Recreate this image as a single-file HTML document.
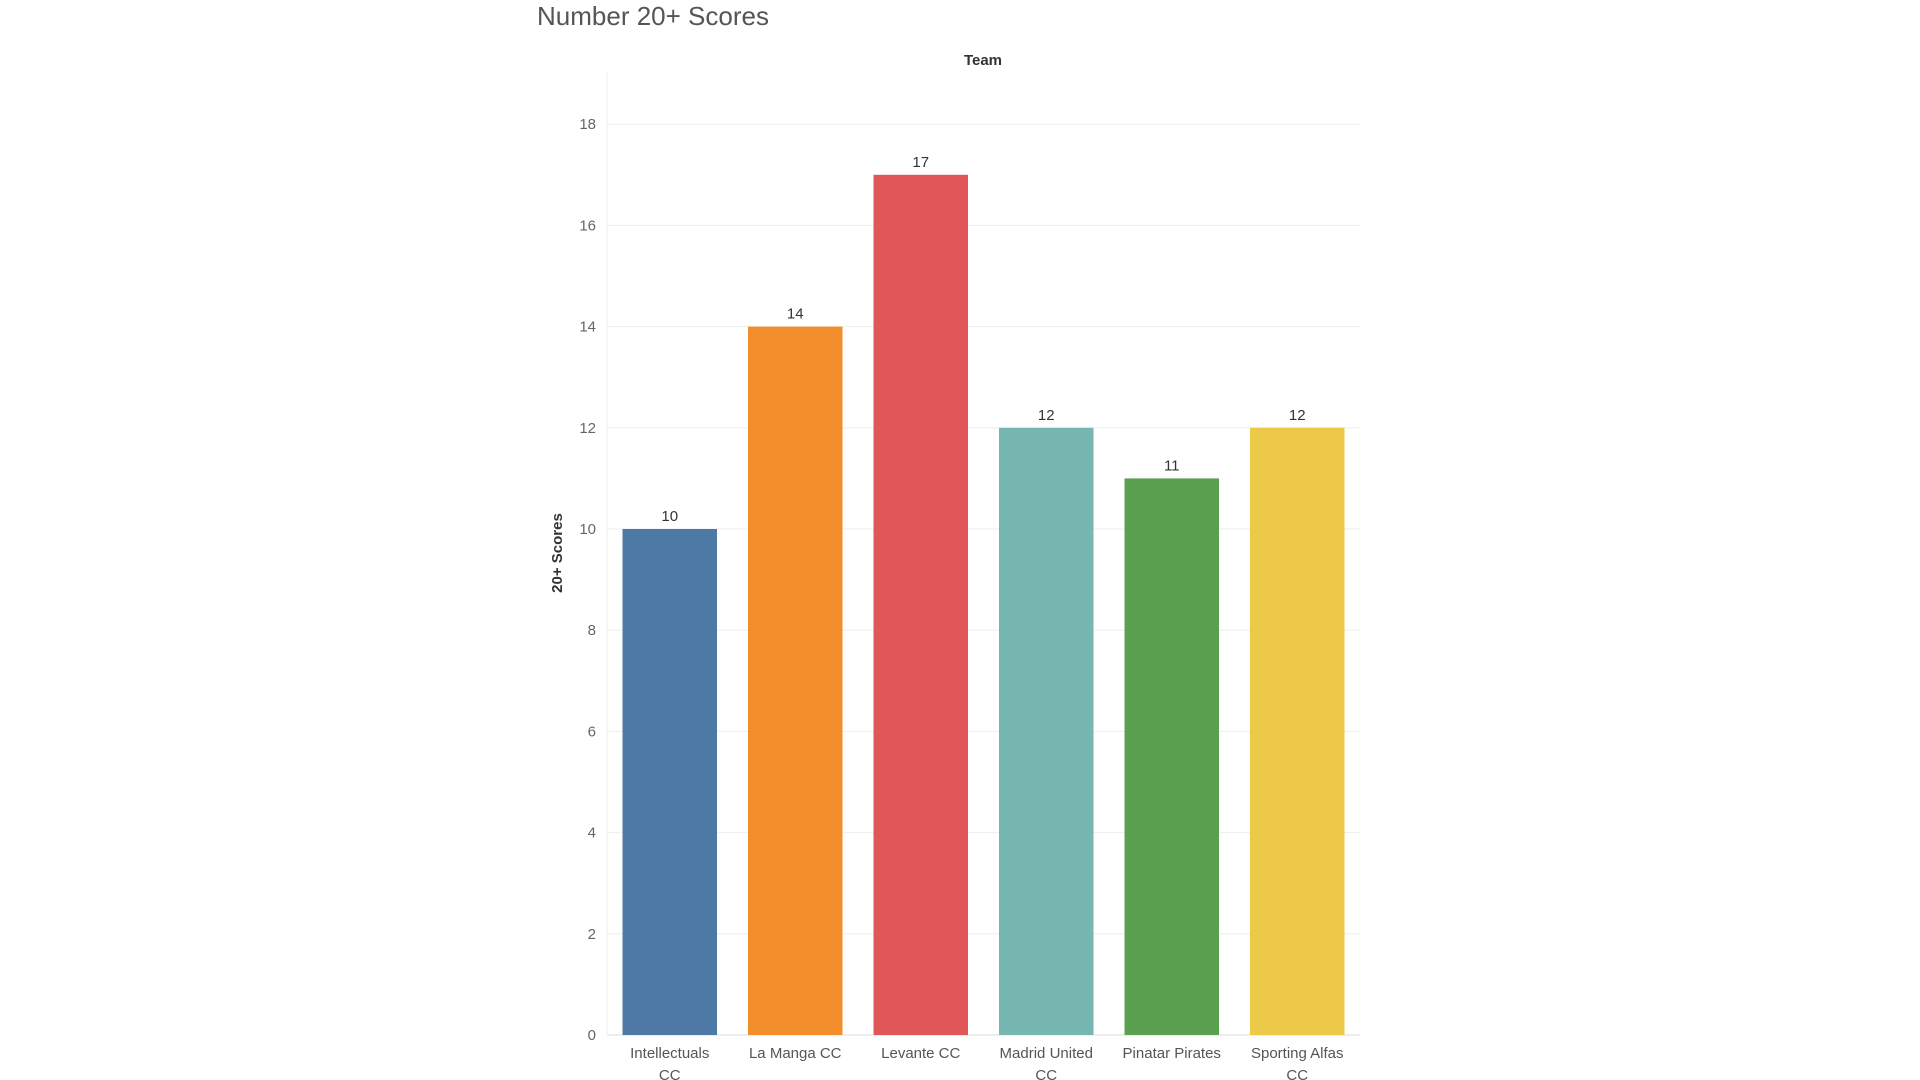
<!DOCTYPE html>
<html><head><meta charset="utf-8"><style>
html,body{margin:0;padding:0;background:#fff;width:1920px;height:1080px;overflow:hidden;font-family:"Liberation Sans",sans-serif;}
</style></head><body>
<svg width="1920" height="1080" id="chart" xmlns="http://www.w3.org/2000/svg">
<text x="537" y="25" font-size="26" fill="#555">Number 20+ Scores</text>
<text x="983" y="65" font-size="15" font-weight="bold" fill="#333" text-anchor="middle">Team</text>
<text transform="translate(562,553) rotate(-90)" font-size="15" font-weight="bold" fill="#333" text-anchor="middle">20+ Scores</text>
<g id="grid"></g><g id="bars"></g>
</svg>
<script>
const categories=["Intellectuals CC","La Manga CC","Levante CC","Madrid United CC","Pinatar Pirates","Sporting Alfas CC"];
const values=[10,14,17,12,11,12];
const colors=["#4e79a7","#f28e2b","#e15759","#76b7b2","#59a14f","#edc948"];
const ticks=[0,2,4,6,8,10,12,14,16,18];
const NS="http://www.w3.org/2000/svg";
const X0=607,X1=1360,Y0=1035,PPU=50.6;
const band=(X1-X0)/categories.length;
const y=v=>Y0-v*PPU;
const xb=i=>X0+i*band;
const svg=document.getElementById('chart');
const grid=document.getElementById('grid'),bars=document.getElementById('bars');
function mk(tag,a,parent){const e=document.createElementNS(NS,tag);for(const k in a)e.setAttribute(k,a[k]);parent.appendChild(e);return e;}
ticks.forEach(t=>{
  const l=mk('line',{x1:X0,x2:X1,y1:y(t),y2:y(t),stroke:t===0?'#ddd':'#eee','stroke-width':1},grid);
  
  
  const tx=mk('text',{x:596,y:y(t)+5,'font-size':15,fill:'#666','text-anchor':'end'},grid);
  tx.textContent=t;
  
  
});
const ax=mk('line',{x1:X0,x2:X0,y1:72,y2:Y0,stroke:'#eee','stroke-width':1},grid);


categories.forEach((c,i)=>{
  const v=values[i];
  const r=mk('rect',{x:xb(i)+15.5,y:y(v),width:band-31,height:Y0-y(v),fill:colors[i]},bars);
  
  
  const cx=xb(i)+band/2;
  const vl=mk('text',{x:cx,y:y(v)-8,'font-size':15,fill:'#333','text-anchor':'middle'},bars);
  vl.textContent=v;
  
  
  const words=c.split(' ');
  let lines=[c];
  if(c.length>15){lines=[words.slice(0,-1).join(' '),words[words.length-1]];}
  lines.forEach((ln,j)=>{
    const t=mk('text',{x:cx,y:1058+j*22,'font-size':15,fill:'#555','text-anchor':'middle'},bars);
    t.textContent=ln;
    
    
  });
});
</script>
</body></html>
